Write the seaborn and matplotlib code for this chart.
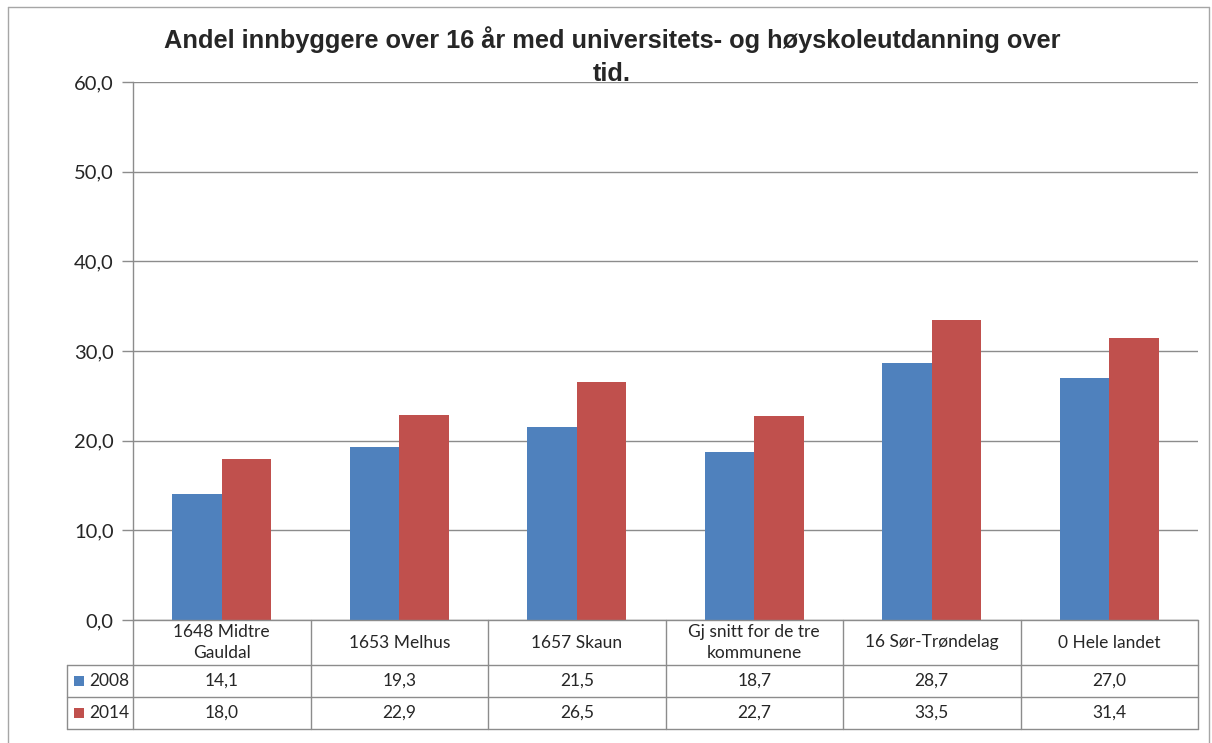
import matplotlib
matplotlib.use("Agg")
import matplotlib.pyplot as plt
import matplotlib.transforms as mtransforms
from matplotlib.lines import Line2D
from matplotlib.patches import Rectangle
import seaborn as sns
import pandas as pd

categories = ["1648 Midtre\nGauldal", "1653 Melhus", "1657 Skaun",
              "Gj snitt for de tre\nkommunene", "16 Sør-Trøndelag", "0 Hele landet"]
series_names = ["2008", "2014"]
values_2008 = [14.1, 19.3, 21.5, 18.7, 28.7, 27.0]
values_2014 = [18.0, 22.9, 26.5, 22.7, 33.5, 31.4]
yticks = [0, 10, 20, 30, 40, 50, 60]
title = "Andel innbyggere over 16 år med universitets- og høyskoleutdanning over\ntid."

colors = ["#4F81BD", "#C0504D"]
grid_color = "#8C8C8C"
font = "Lato"

df = pd.DataFrame({
    "cat": categories * 2,
    "year": [series_names[0]] * len(categories) + [series_names[1]] * len(categories),
    "val": values_2008 + values_2014,
})

sns.set_style("white")
plt.rcParams["font.family"] = [font, "DejaVu Sans"]

W, H = 1212, 743
fig = plt.figure(figsize=(W / 100, H / 100), dpi=100)
L, R, T, B = 133, 1198, 82, 620
ax = fig.add_axes([L / W, 1 - B / H, (R - L) / W, (B - T) / H])

sns.barplot(data=df, x="cat", y="val", hue="year", palette=colors, width=0.56,
            gap=0, saturation=1, ax=ax, legend=False, edgecolor="none")

ax.set_xlim(-0.5, len(categories) - 0.5)
ax.set_ylim(0, 60)
ax.set_yticks(yticks)
ax.set_yticklabels([f"{v:.1f}".replace(".", ",") for v in yticks], fontsize=14.5)
ax.set_xticks([])
ax.set_xlabel("")
ax.set_ylabel("")
ax.yaxis.grid(True, color=grid_color, linewidth=1)
ax.set_axisbelow(True)
for s in ["top", "right", "bottom"]:
    ax.spines[s].set_visible(False)
ax.spines["left"].set_color(grid_color)
ax.spines["left"].set_linewidth(1)
ax.tick_params(axis="y", length=8, width=1, color=grid_color, pad=6, left=True)

# Data table below axis
trans = mtransforms.blended_transform_factory(ax.transData, ax.transAxes)
ph = B - T
def yfrac(py):
    return (B - py) / ph
y_hdr = yfrac(665)
y_r1 = yfrac(697)
y_r2 = yfrac(729)
x_leg = -0.5 - (L - 67) / ((R - L) / len(categories))
n = len(categories)
lw = 1
kw = dict(color=grid_color, linewidth=lw, transform=trans, clip_on=False)
# horizontal lines
ax.add_line(Line2D([-0.5, n - 0.5], [0, 0], **kw))
for yy in [y_hdr, y_r1, y_r2]:
    ax.add_line(Line2D([x_leg, n - 0.5], [yy, yy], **kw))
# vertical lines
for i in range(n + 1):
    ax.add_line(Line2D([i - 0.5, i - 0.5], [0, y_r2], **kw))
ax.add_line(Line2D([x_leg, x_leg], [y_hdr, y_r2], **kw))

tfs = 12.5
# header texts
for i, c in enumerate(categories):
    ax.text(i, (0 + y_hdr) / 2, c, transform=trans, ha="center", va="center",
            fontsize=tfs, linespacing=1.4)
rows = [values_2008, values_2014]
row_y = [(y_hdr + y_r1) / 2, (y_r1 + y_r2) / 2]
for r, (vals, yy) in enumerate(zip(rows, row_y)):
    for i, v in enumerate(vals):
        ax.text(i, yy, f"{v:.1f}".replace(".", ","), transform=trans,
                ha="center", va="center", fontsize=tfs)
    # legend key
    px0 = 74
    xs = -0.5 - (L - px0) / ((R - L) / n)
    kw_w = 10 / ((R - L) / n)
    kh = 10 / ph
    ax.add_patch(Rectangle((xs, yy - kh / 2), kw_w, kh, facecolor=colors[r],
                           edgecolor="none", transform=trans, clip_on=False))
    xt = -0.5 - (L - 89) / ((R - L) / n)
    ax.text(xt, yy, series_names[r], transform=trans, ha="left", va="center",
            fontsize=tfs)

# Title
fig.text(612 / W, 1 - 56 / H, title, ha="center", va="center",
         fontsize=18.3, fontweight="bold", family=["Liberation Sans", "DejaVu Sans"],
         linespacing=1.5)

# Outer border
bkw = dict(color="#A6A6A6", linewidth=1, transform=fig.transFigure)
fig.add_artist(Line2D([8 / W, 8 / W], [0, 1 - 7 / H], **bkw))
fig.add_artist(Line2D([8 / W, 1209 / W], [1 - 7 / H, 1 - 7 / H], **bkw))
fig.add_artist(Line2D([1209 / W, 1209 / W], [0, 1 - 7 / H], **bkw))

fig.savefig("out.png", dpi=100)
